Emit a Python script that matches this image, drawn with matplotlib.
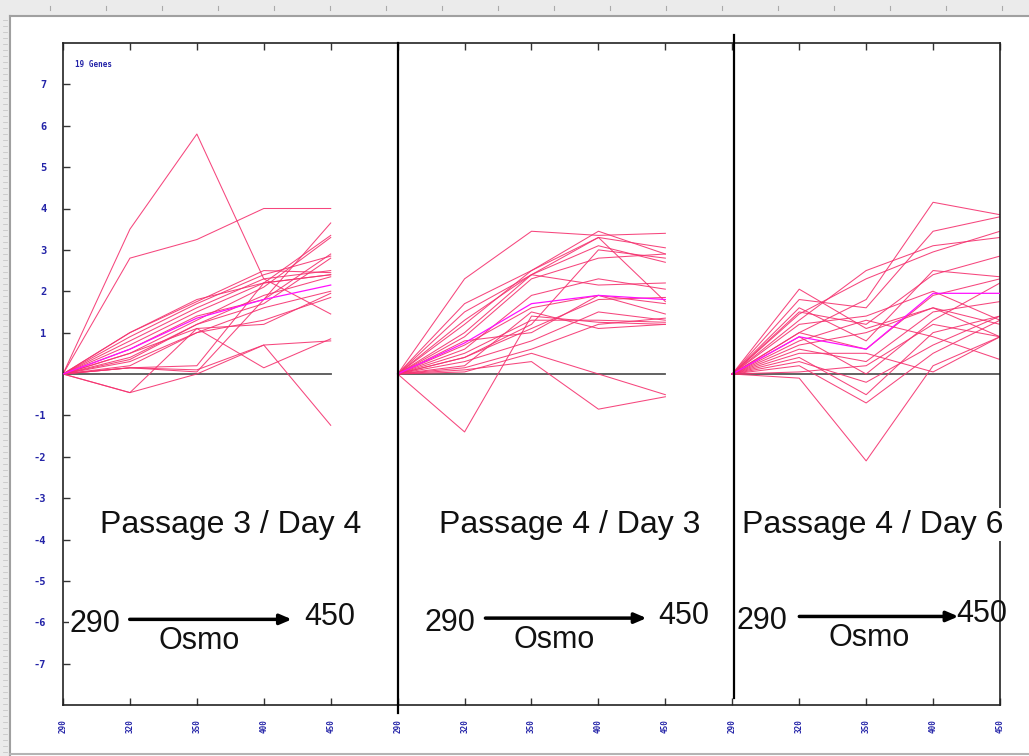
import matplotlib
matplotlib.use("Agg")
import matplotlib.pyplot as plt
from matplotlib.patches import Rectangle
from matplotlib.lines import Line2D
import numpy as np

# osmolality steps per panel (x tick labels)
osmo = ["290", "320", "350", "400", "450"]
panels = ["Passage 3 / Day 4", "Passage 4 / Day 3", "Passage 4 / Day 6"]

# expression profiles, one row per gene (values at 290, 320, 350, 400, 450)
p3d4 = [
    [0, 3.5, 5.8, 2.3, 1.45],
    [0, 2.8, 3.25, 4.0, 4.0],
    [0, -0.45, 1.1, 0.15, 0.85],
    [0, -0.45, 0.0, 0.7, -1.24],
    [0, 0.15, 0.05, 1.8, 3.65],
    [0, 0.15, 0.2, 2.2, 3.35],
    [0, 1.0, 1.75, 2.5, 2.45],
    [0, 0.9, 1.7, 2.4, 2.85],
    [0, 0.8, 1.6, 2.3, 2.5],
    [0, 0.7, 1.5, 2.2, 2.4],
    [0, 0.5, 1.3, 2.1, 3.3],
    [0, 0.4, 1.2, 1.7, 2.8],
    [0, 0.3, 1.0, 1.6, 2.0],
    [0, 0.5, 1.1, 1.2, 1.95],
    [0, 0.2, 1.0, 1.3, 1.85],
    [0, 0.35, 1.2, 1.9, 2.35],
    [0, 0.15, 0.1, 0.7, 0.8],
    [0, 1.0, 1.8, 2.2, 2.4],
    [0, 0.6, 1.4, 1.8, 2.9],
]
p3d4_mean = [0, 0.6, 1.35, 1.8, 2.15]

p4d3 = [
    [0, 2.3, 3.45, 3.35, 3.4],
    [0, 1.7, 2.5, 3.45, 2.9],
    [0, 1.5, 2.4, 3.3, 3.05],
    [0, 1.3, 2.4, 3.1, 2.7],
    [0, 1.2, 2.5, 3.3, 1.75],
    [0, 0.9, 2.3, 2.8, 2.9],
    [0, 1.0, 2.4, 2.15, 2.2],
    [0, 0.7, 1.6, 1.9, 1.45],
    [0, 0.5, 1.3, 1.3, 1.25],
    [0, 0.4, 1.1, 1.8, 1.85],
    [0, 0.2, 1.5, 1.1, 1.2],
    [0, 0.15, 0.6, 1.2, 1.35],
    [0, -1.4, 1.4, 1.25, 1.2],
    [0, 0.05, 0.5, 0.0, -0.5],
    [0, 0.1, 0.3, -0.85, -0.55],
    [0, 0.6, 1.9, 2.3, 2.05],
    [0, 0.4, 1.2, 3.0, 2.8],
    [0, 0.8, 1.0, 1.9, 1.7],
    [0, 0.3, 0.8, 1.5, 1.3],
]
p4d3_mean = [0, 0.75, 1.7, 1.9, 1.8]

p4d6 = [
    [0, 1.0, 1.8, 4.15, 3.85],
    [0, 2.05, 1.1, 1.6, 0.9],
    [0, -0.1, -2.1, 0.2, 0.9],
    [0, 1.8, 1.6, 3.45, 3.8],
    [0, 1.45, 2.3, 2.95, 3.45],
    [0, 1.3, 2.5, 3.1, 3.3],
    [0, 1.5, 1.2, 2.4, 2.85],
    [0, 1.0, 0.6, 1.9, 2.3],
    [0, 0.9, 0.0, 1.3, 2.2],
    [0, 0.6, 0.3, 1.5, 1.75],
    [0, 0.4, -0.5, 1.0, 1.4],
    [0, 0.2, -0.7, 0.5, 1.3],
    [0, 0.8, 1.3, 0.9, 0.35],
    [0, 0.05, 0.2, 1.2, 0.9],
    [0, 0.5, 0.5, 0.05, 0.9],
    [0, 1.2, 1.4, 2.0, 1.3],
    [0, 0.3, -0.2, 0.7, 1.4],
    [0, 1.6, 0.8, 2.5, 2.35],
    [0, 0.7, 1.0, 1.6, 1.2],
]
p4d6_mean = [0, 0.9, 0.6, 1.95, 1.95]

groups = [(p3d4, p3d4_mean), (p4d3, p4d3_mean), (p4d6, p4d6_mean)]

PINK = "#f5326f"
MAGENTA = "#ff10ff"
BLUE = "#2424a8"

fig = plt.figure(figsize=(10.29, 7.56), dpi=100)

# screenshot frame: rulers at top and left
fig.add_artist(Rectangle((0, 1 - 15 / 756), 1, 15 / 756, transform=fig.transFigure,
                         facecolor="#ebebeb", edgecolor="none"))
fig.add_artist(Rectangle((0, 0), 10 / 1029, 1, transform=fig.transFigure,
                         facecolor="#ebebeb", edgecolor="none"))
fig.add_artist(Line2D([10 / 1029, 1], [1 - 16 / 756] * 2, transform=fig.transFigure,
                      color="#a0a0a0", lw=1.5))
fig.add_artist(Line2D([10 / 1029] * 2, [0, 1 - 16 / 756], transform=fig.transFigure,
                      color="#a0a0a0", lw=1.5))
fig.add_artist(Line2D([10 / 1029, 1], [2 / 756] * 2, transform=fig.transFigure,
                      color="#b4b4b4", lw=1.5))
for tx in np.arange(50, 1029, 56):
    fig.add_artist(Line2D([tx / 1029] * 2, [1 - 6 / 756, 1 - 10 / 756],
                          transform=fig.transFigure, color="#aaaaaa", lw=0.8))
for ty in np.arange(20, 756, 6):
    fig.add_artist(Line2D([3 / 1029, 7 / 1029], [1 - ty / 756] * 2,
                          transform=fig.transFigure, color="#c8c8c8", lw=0.6))

ax = fig.add_axes([63 / 1029, 1 - 705 / 756, 937 / 1029, 662 / 756])

for g, (genes, mean) in enumerate(groups):
    xs = np.arange(len(osmo)) + 5 * g
    ax.plot([xs[0], xs[-1]], [0, 0], color="#555555", lw=1.3, zorder=1)
    for row in genes:
        ax.plot(xs, row, color=PINK, lw=0.75, alpha=0.9, zorder=2)
    ax.plot(xs, mean, color=MAGENTA, lw=0.9, zorder=3)

ax.set_xlim(0, 14)
ax.set_ylim(-8, 8)

ax.set_xticks(np.arange(15))
ax.set_xticklabels(osmo * 3, rotation=90, fontsize=5.5, color=BLUE,
                   family="DejaVu Sans Mono", fontweight="bold")
yt = [v for v in range(-7, 8) if v != 0]
ax.set_yticks(yt)
ax.set_yticklabels([str(v) for v in yt], fontsize=7.5, color=BLUE,
                   family="DejaVu Sans Mono", fontweight="bold")
ax.tick_params(axis="both", direction="in", length=5, width=1, color="#333333",
               top=True, bottom=True, left=True, right=False)
ax.tick_params(axis="x", pad=10)
ax.tick_params(axis="y", pad=12)
for s in ax.spines.values():
    s.set_color("#222222")
    s.set_linewidth(1.2)

# panel dividers
ax.axvline(5, ymin=-0.012, ymax=1, color="black", lw=1.6, clip_on=False, zorder=4)
ax.axvline(10.03, ymin=0.01, ymax=1.012, color="black", lw=1.6, clip_on=False, zorder=4)

ax.text(0.18, 7.47, "19 Genes", fontsize=5.5, color=BLUE, family="DejaVu Sans Mono",
        fontweight="bold", va="center", ha="left")

big = dict(family="Liberation Sans", color="#111111", zorder=6)
title_x = [2.5, 7.57, 12.1]
for tx, label in zip(title_x, panels):
    ax.text(tx, -3.64, label, ha="center", va="center", fontsize=23,
            bbox=dict(facecolor="white", edgecolor="none", pad=1), **big)

# osmolality arrows
arrows = [
    (0.48, 0.955, 3.46, 3.98, 2.04, -5.93),
    (5.78, 6.27, 8.76, 9.28, 7.34, -5.9),
    (10.45, 10.96, 13.42, 13.72, 12.04, -5.86),
]
for lo_x, a0, a1, hi_x, osmo_x, ay in arrows:
    ax.text(lo_x, ay - 0.12, "290", ha="center", va="center", fontsize=22,
            bbox=dict(facecolor="white", edgecolor="none", pad=0.5), **big)
    ax.text(hi_x, ay + 0.05, "450", ha="center", va="center", fontsize=22, **big)
    ax.text(osmo_x, ay - 0.52, "Osmo", ha="center", va="center", fontsize=22, **big)
    ax.annotate("", xy=(a1, ay), xytext=(a0, ay),
                arrowprops=dict(arrowstyle="-|>,head_length=0.7,head_width=0.3",
                                color="black", lw=2.5), zorder=6)

fig.savefig("out.png", dpi=100, facecolor="white")
